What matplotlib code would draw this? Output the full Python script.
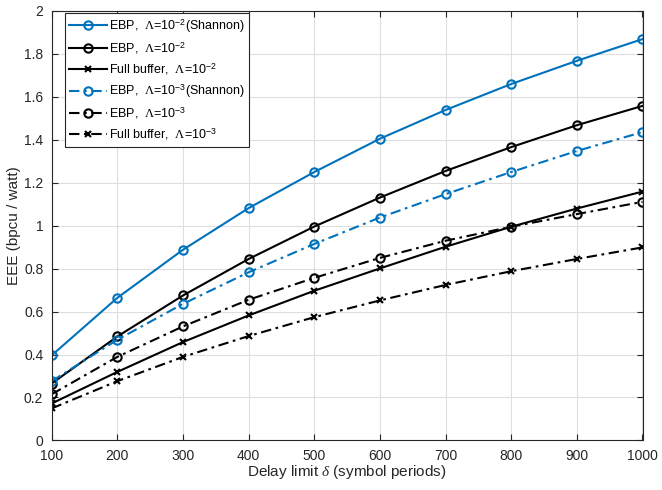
import matplotlib
matplotlib.use("Agg")
import matplotlib.pyplot as plt

plt.rcParams['font.family'] = ['Liberation Sans', 'DejaVu Sans']
plt.rcParams['mathtext.fontset'] = 'custom'
plt.rcParams['mathtext.rm'] = 'Liberation Serif'
plt.rcParams['mathtext.it'] = 'Liberation Serif:italic'
plt.rcParams['mathtext.sf'] = 'Liberation Sans'

delay = [100, 200, 300, 400, 500, 600, 700, 800, 900, 1000]

ebp_2_shannon = [0.396, 0.664, 0.888, 1.082, 1.25, 1.405, 1.539, 1.66, 1.768, 1.869]
ebp_2 = [0.265, 0.484, 0.675, 0.845, 0.996, 1.131, 1.255, 1.366, 1.468, 1.558]
full_2 = [0.172, 0.319, 0.458, 0.582, 0.697, 0.801, 0.902, 0.995, 1.08, 1.159]
ebp_3_shannon = [0.276, 0.469, 0.636, 0.783, 0.915, 1.038, 1.147, 1.25, 1.348, 1.436]
ebp_3 = [0.215, 0.389, 0.531, 0.655, 0.757, 0.85, 0.93, 0.995, 1.054, 1.111]
full_3 = [0.149, 0.276, 0.389, 0.486, 0.574, 0.652, 0.724, 0.788, 0.845, 0.899]

labels = [
    r'EBP,  $\Lambda$=10$^{\mathsf{-2}}$(Shannon)',
    r'EBP,  $\Lambda$=10$^{\mathsf{-2}}$',
    r'Full buffer,  $\Lambda$=10$^{\mathsf{-2}}$',
    r'EBP,  $\Lambda$=10$^{\mathsf{-3}}$(Shannon)',
    r'EBP,  $\Lambda$=10$^{\mathsf{-3}}$',
    r'Full buffer,  $\Lambda$=10$^{\mathsf{-3}}$',
]

blue = '#0072BD'
dashdot = (0, (5, 2.2, 1.3, 2.2))

fig = plt.figure(figsize=(6.62, 4.90), dpi=100)
ax = fig.add_axes([51.7/662, 49.6/490, (642.5-51.7)/662, (440.4-11)/490])

lw = 1.5
ax.plot(delay, ebp_2_shannon, color=blue, ls='-', lw=lw, marker='o', ms=6, mfc='none', mew=1.5, label=labels[0])
ax.plot(delay, ebp_2, color='black', ls='-', lw=lw, marker='o', ms=6, mfc='none', mew=1.5, label=labels[1])
ax.plot(delay, full_2, color='black', ls='-', lw=lw, marker='x', ms=4.5, mew=1.5, label=labels[2])
ax.plot(delay, ebp_3_shannon, color=blue, ls=dashdot, lw=lw, marker='o', ms=6, mfc='none', mew=1.5, label=labels[3])
ax.plot(delay, ebp_3, color='black', ls=dashdot, lw=lw, marker='o', ms=6, mfc='none', mew=1.5, label=labels[4])
ax.plot(delay, full_3, color='black', ls=dashdot, lw=lw, marker='x', ms=4.5, mew=1.5, label=labels[5])

ax.set_xlim(100, 1000)
ax.set_ylim(0, 2)
ax.set_xticks(delay)
yt = [0, 0.2, 0.4, 0.6, 0.8, 1, 1.2, 1.4, 1.6, 1.8, 2]
ax.set_yticks(yt)
ax.set_yticklabels(['0', '0.2', '0.4', '0.6', '0.8', '1', '1.2', '1.4', '1.6', '1.8', '2'])

tc = '#262626'
ax.tick_params(direction='in', length=4, width=0.8, colors=tc, labelsize=10, top=True, right=True, labeltop=False, labelright=False, pad=6)
for s in ax.spines.values():
    s.set_color(tc)
    s.set_linewidth(0.8)
ax.grid(True, color='#dedede', lw=0.8)
ax.set_axisbelow(True)

ax.set_xlabel(r'Delay limit $\delta$ (symbol periods)', fontsize=11, color=tc, labelpad=0)
ax.set_ylabel('EEE (bpcu / watt)', fontsize=11, color=tc, labelpad=2)

leg = ax.legend(loc='upper left', bbox_to_anchor=(0.022, 0.996), fontsize=9, frameon=True, fancybox=False,
                edgecolor=tc, framealpha=1, handlelength=3.0, handletextpad=0.2, borderpad=0.35,
                labelspacing=0.45, borderaxespad=0)
leg.get_frame().set_linewidth(0.8)

fig.savefig('out.png', dpi=100)
